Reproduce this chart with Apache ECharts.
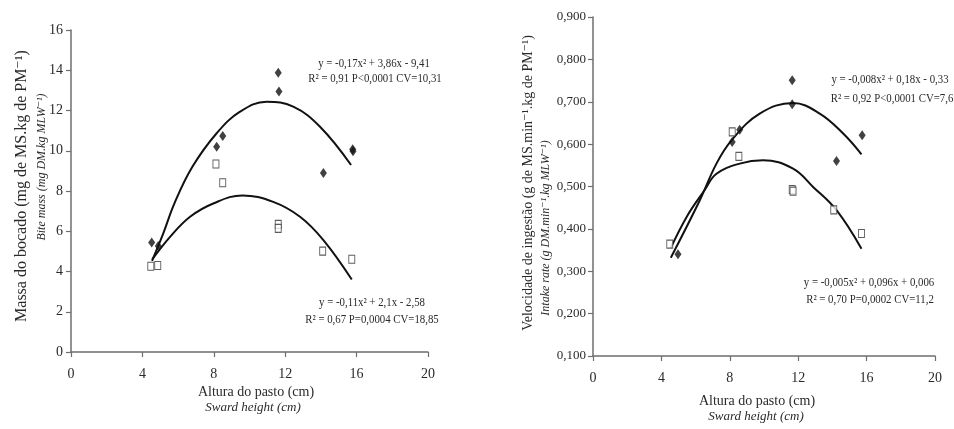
<!DOCTYPE html>
<html>
<head>
<meta charset="utf-8">
<script src="https://cdn.jsdelivr.net/npm/echarts@6/dist/echarts.min.js"></script>
<style>
  html, body { margin: 0; padding: 0; background: #fff; }
  #chart { width: 954px; height: 429px; }
</style>
</head>
<body>
<div id="chart"></div>
<script>
// ---------- data ----------
const xTicks = [0, 4, 8, 12, 16, 20];
const biteTicks = [0, 2, 4, 6, 8, 10, 12, 14, 16];
const rateTicks = [0.1, 0.2, 0.3, 0.4, 0.5, 0.6, 0.7, 0.8, 0.9];

// Left panel: bite mass
const biteDiamondX = [4.52, 4.89, 8.16, 8.50, 11.61, 11.65, 14.14, 15.78, 15.80];
const biteDiamondY = [5.44, 5.27, 10.20, 10.73, 13.88, 12.94, 8.90, 10.08, 9.98];
const biteSquareX = [4.47, 4.86, 8.12, 8.50, 11.61, 11.61, 14.10, 15.73];
const biteSquareY = [4.26, 4.30, 9.34, 8.41, 6.34, 6.14, 5.01, 4.61];
const biteFitUpperX = [4.54, 5.17, 5.80, 6.80, 8.16, 9.47, 10.96, 12.45, 13.95, 15.69];
const biteFitUpperY = [4.53, 5.89, 7.40, 9.20, 10.87, 11.94, 12.44, 12.19, 11.19, 9.29];
const biteFitLowerX = [4.55, 5.55, 6.67, 7.97, 9.60, 11.33, 12.83, 14.14, 15.73];
const biteFitLowerY = [4.60, 5.72, 6.72, 7.38, 7.78, 7.46, 6.72, 5.56, 3.60];

// Right panel: intake rate
const rateDiamondX = [4.97, 8.14, 8.58, 11.65, 11.65, 14.24, 15.74];
const rateDiamondY = [0.340, 0.605, 0.634, 0.751, 0.694, 0.560, 0.621];
const rateSquareX = [4.49, 8.14, 8.53, 11.65, 11.70, 14.08, 15.70];
const rateSquareY = [0.364, 0.629, 0.571, 0.493, 0.489, 0.445, 0.389];
const rateFitUpperX = [4.55, 6.24, 7.22, 8.10, 9.75, 11.70, 13.26, 14.63, 15.70];
const rateFitUpperY = [0.332, 0.467, 0.554, 0.609, 0.672, 0.697, 0.672, 0.625, 0.576];
const rateFitLowerX = [4.55, 5.50, 6.50, 7.22, 8.58, 9.95, 11.70, 12.87, 14.24, 15.70];
const rateFitLowerY = [0.355, 0.430, 0.490, 0.530, 0.554, 0.562, 0.542, 0.499, 0.444, 0.353];

// Texts
const biteYTitle1 = 'Massa do bocado (mg de MS.kg de PM\u207B\u00B9)';
const biteYTitle2 = 'Bite mass (mg DM.kg MLW\u207B\u00B9)';
const rateYTitle1 = 'Velocidade de ingestão (g de MS.min\u207B\u00B9.kg de PM\u207B\u00B9)';
const rateYTitle2 = 'Intake rate (g DM.min\u207B\u00B9.kg MLW\u207B\u00B9)';
const xTitle1 = 'Altura do pasto (cm)';
const xTitle2 = 'Sward height (cm)';
const biteEqUpper = ['y = -0,17x\u00B2 + 3,86x - 9,41', 'R\u00B2 = 0,91 P<0,0001 CV=10,31'];
const biteEqLower = ['y = -0,11x\u00B2 + 2,1x - 2,58', 'R\u00B2 = 0,67 P=0,0004 CV=18,85'];
const rateEqUpper = ['y = -0,008x\u00B2 + 0,18x - 0,33', 'R\u00B2 = 0,92 P<0,0001 CV=7,6'];
const rateEqLower = ['y = -0,005x\u00B2 + 0,096x + 0,006', 'R\u00B2 = 0,70 P=0,0002 CV=11,2'];

// ---------- helpers ----------
const zip = (xs, ys) => xs.map((x, i) => [x, ys[i]]);
const FONT = '"Liberation Serif", "DejaVu Serif", serif';
const AXIS_COLOR = '#6e6e6e';
const TEXT_COLOR = '#2a2a2a';

function makeXAxis(gridIndex) {
  return {
    gridIndex, type: 'value',
    min: xTicks[0], max: xTicks[xTicks.length - 1], interval: xTicks[1] - xTicks[0],
    axisLine: { lineStyle: { color: AXIS_COLOR, width: 1.5 } },
    axisTick: { inside: false, length: 5, lineStyle: { color: AXIS_COLOR, width: 1.2 } },
    axisLabel: { color: TEXT_COLOR, fontFamily: FONT, fontSize: 14, margin: 15 },
    splitLine: { show: false }
  };
}
function makeYAxis(gridIndex, ticks, fmt, margin, size) {
  return {
    gridIndex, type: 'value',
    min: ticks[0], max: ticks[ticks.length - 1],
    interval: +(ticks[1] - ticks[0]).toFixed(6),
    axisLine: { show: true, lineStyle: { color: AXIS_COLOR, width: 1.5 } },
    axisTick: { show: true, inside: false, length: 5, lineStyle: { color: AXIS_COLOR, width: 1.2 } },
    axisLabel: { color: TEXT_COLOR, fontFamily: FONT, fontSize: size, margin, formatter: fmt },
    splitLine: { show: false }
  };
}
function scatter(xi, yi, data, kind) {
  const isDiamond = kind === 'diamond';
  return {
    type: 'scatter', xAxisIndex: xi, yAxisIndex: yi, data, z: 5,
    symbol: isDiamond ? 'diamond' : 'rect',
    symbolSize: isDiamond ? [7, 10] : [6, 8],
    itemStyle: isDiamond
      ? { color: '#111' }
      : { color: '#fff', borderColor: '#333', borderWidth: 1 }
  };
}
function fit(xi, yi, data) {
  return {
    type: 'line', xAxisIndex: xi, yAxisIndex: yi, data, z: 3,
    smooth: 0.4, symbol: 'none',
    lineStyle: { color: '#111', width: 2 }
  };
}
function txt(x, y, text, size, opts) {
  opts = opts || {};
  return {
    type: 'text', x, y, rotation: opts.rotation || 0,
    scaleX: opts.scaleX || 1, z: 10,
    style: {
      text, fill: opts.color || TEXT_COLOR,
      font: (opts.italic ? 'italic ' : '') + size + 'px ' + FONT,
      textAlign: 'center', textVerticalAlign: 'middle'
    }
  };
}

const chart = echarts.init(document.getElementById('chart'), null, { renderer: 'canvas' });
const ROT = Math.PI / 2;

chart.setOption({
  backgroundColor: '#ffffff',
  animation: false,
  grid: [
    { left: 71, top: 30, width: 357, height: 322 },
    { left: 593, top: 17, width: 342, height: 339 }
  ],
  xAxis: [makeXAxis(0), makeXAxis(1)],
  yAxis: [
    makeYAxis(0, biteTicks, v => String(v), 8, 14),
    makeYAxis(1, rateTicks, v => v.toFixed(3).replace('.', ','), 7, 13)
  ],
  series: [
    fit(0, 0, zip(biteFitUpperX, biteFitUpperY)),
    fit(0, 0, zip(biteFitLowerX, biteFitLowerY)),
    scatter(0, 0, zip(biteDiamondX, biteDiamondY), 'diamond'),
    scatter(0, 0, zip(biteSquareX, biteSquareY), 'square'),
    fit(1, 1, zip(rateFitUpperX, rateFitUpperY)),
    fit(1, 1, zip(rateFitLowerX, rateFitLowerY)),
    scatter(1, 1, zip(rateDiamondX, rateDiamondY), 'diamond'),
    scatter(1, 1, zip(rateSquareX, rateSquareY), 'square')
  ],
  graphic: [
    // y-axis titles
    txt(22, 186, biteYTitle1, 16, { rotation: ROT }),
    txt(42, 167, biteYTitle2, 12, { rotation: ROT, italic: true }),
    txt(528, 183, rateYTitle1, 14, { rotation: ROT }),
    txt(546, 228, rateYTitle2, 12, { rotation: ROT, italic: true }),
    // x-axis titles
    txt(256, 392, xTitle1, 14),
    txt(253, 408, xTitle2, 13, { italic: true }),
    txt(757, 401, xTitle1, 14),
    txt(756, 417, xTitle2, 13, { italic: true }),
    // equations
    txt(374, 64, biteEqUpper[0], 12, { scaleX: 0.9 }),
    txt(375, 79, biteEqUpper[1], 12, { scaleX: 0.9 }),
    txt(372, 303, biteEqLower[0], 12, { scaleX: 0.9 }),
    txt(372, 320, biteEqLower[1], 12, { scaleX: 0.9 }),
    txt(890, 80, rateEqUpper[0], 12, { scaleX: 0.9 }),
    txt(892, 99, rateEqUpper[1], 12, { scaleX: 0.9 }),
    txt(869, 283, rateEqLower[0], 12, { scaleX: 0.9 }),
    txt(870, 300, rateEqLower[1], 12, { scaleX: 0.9 })
  ]
});
</script>
</body>
</html>
